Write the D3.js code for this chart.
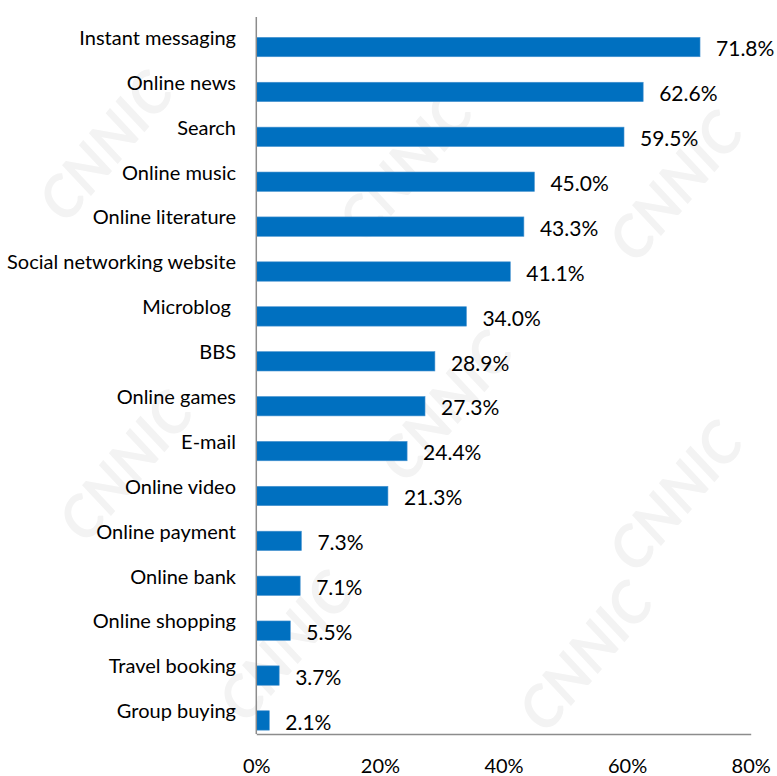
<!DOCTYPE html>
<html>
<head>
<meta charset="utf-8">
<script src="https://cdn.jsdelivr.net/npm/d3@7"></script>
<style>
  html, body { margin: 0; padding: 0; background: #ffffff; }
  svg { display: block; }
  text { font-family: Lato, "Open Sans", sans-serif; }
</style>
</head>
<body>
<script>
// Internet application usage rates (%)
const categories = [
  "Instant messaging", "Online news", "Search", "Online music",
  "Online literature", "Social networking website", "Microblog ", "BBS",
  "Online games", "E-mail", "Online video", "Online payment",
  "Online bank", "Online shopping", "Travel booking", "Group buying"
];
const values = [71.8, 62.6, 59.5, 45.0, 43.3, 41.1, 34.0, 28.9, 27.3, 24.4, 21.3, 7.3, 7.1, 5.5, 3.7, 2.1];
const tickValues = [0, 20, 40, 60, 80];

// spots for the faint background logo
const logoSpots = [
  [110, 150], [410, 170], [680, 190],
  [130, 470], [450, 410], [680, 500],
  [290, 650], [590, 660]
];

const W = 777, H = 776;
const plotTop = 17, plotBottom = 734;

const svg = d3.select("body").append("svg")
  .attr("width", W).attr("height", H);

// faint logo watermark
svg.append("g").attr("fill", "#f3f3f3")
  .selectAll("text").data(logoSpots).join("text")
  .attr("transform", d => `translate(${d[0]},${d[1]}) rotate(-50)`)
  .attr("text-anchor", "middle")
  .attr("dominant-baseline", "middle")
  .style("font-size", "58px")
  .style("font-weight", "700")
  .style("font-style", "italic")
  .text("CNNIC");

const x = d3.scaleLinear().domain([0, 80]).range([256.3, 750.7]);
const y = d3.scaleBand().domain(categories).range([24.6, 742.9])
  .paddingInner(0.568).paddingOuter(0.284);

const rows = categories.map((c, i) => ({ c, v: values[i] }));

// bars
svg.append("g").selectAll("rect").data(rows).join("rect")
  .attr("x", x(0))
  .attr("y", d => y(d.c))
  .attr("width", d => x(d.v) - x(0))
  .attr("height", y.bandwidth())
  .attr("fill", "#0070c0")
  .attr("stroke", "#4a94d0")
  .attr("stroke-width", 0.6);

// value labels
svg.append("g").selectAll("text").data(rows).join("text")
  .attr("x", d => x(d.v) + 16)
  .attr("y", d => y(d.c) + y.bandwidth() - 0.5)
  .style("font-size", "21px")
  .attr("fill", "#000")
  .text(d => d.v.toFixed(1) + "%");

// category labels
svg.append("g").selectAll("text").data(rows).join("text")
  .attr("x", 236)
  .attr("y", d => y(d.c) + 7.5)
  .attr("text-anchor", "end")
  .style("font-size", "20px")
  .style("white-space", "pre")
  .attr("fill", "#000")
  .text(d => d.c);

// vertical category axis line
svg.append("line")
  .attr("x1", x(0)).attr("x2", x(0))
  .attr("y1", plotTop).attr("y2", plotBottom)
  .attr("stroke", "#8c8c8c").attr("stroke-width", 1.5);

// percentage axis
const xAxis = svg.append("g")
  .attr("transform", `translate(0,${plotBottom})`)
  .call(d3.axisBottom(x).tickValues(tickValues).tickSize(0).tickFormat(d => d + "%"));
xAxis.select(".domain").attr("stroke", "#8c8c8c").attr("stroke-width", 1.5);
xAxis.selectAll(".tick text")
  .attr("y", 39).attr("dy", null)
  .attr("fill", "#000")
  .style("font-size", "20px")
  .style("font-family", "Lato, 'Open Sans', sans-serif");
</script>
</body>
</html>
